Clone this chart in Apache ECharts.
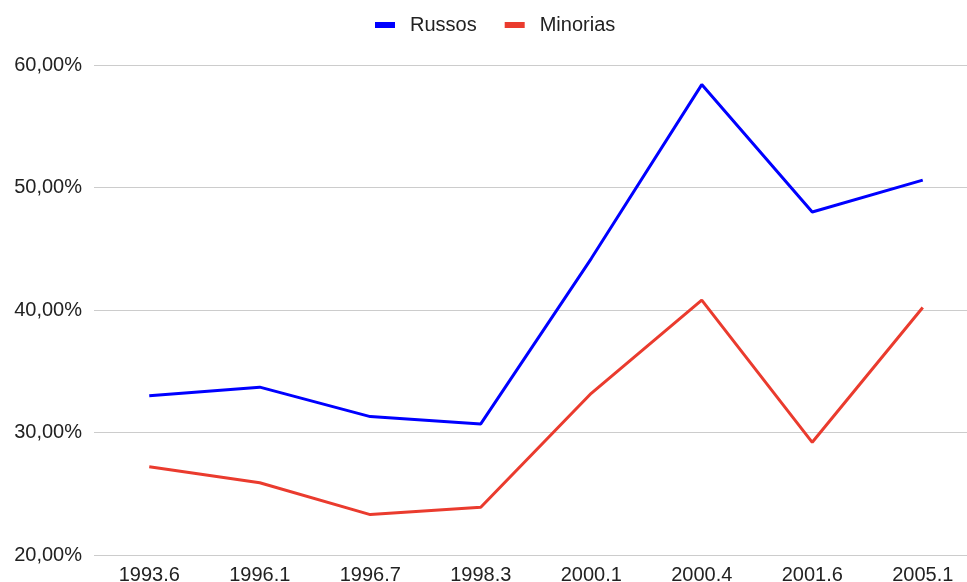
<!DOCTYPE html>
<html>
<head>
<meta charset="utf-8">
<script src="https://cdn.jsdelivr.net/npm/echarts@6/dist/echarts.min.js"></script>
<style>
  html, body { margin: 0; padding: 0; background: #fff; overflow: hidden; }
  #chart { width: 967px; height: 582px; }
</style>
</head>
<body>
<div id="chart"></div>
<script>
// Survey waves (year.month)
const categories = ['1993.6', '1996.1', '1996.7', '1998.3', '2000.1', '2000.4', '2001.6', '2005.1'];
// Shares in percent
const russos   = [33.0, 33.7, 31.3, 30.7, 44.2, 58.4, 48.0, 50.6];
const minorias = [27.2, 25.9, 23.3, 23.9, 33.2, 40.8, 29.2, 40.2];
const yTicks = { min: 20, max: 60, interval: 10 };

const chart = echarts.init(document.getElementById('chart'), null, { renderer: 'canvas' });
const fontFamily = 'Liberation Sans, Arial, sans-serif';

chart.setOption({
  animation: false,
  backgroundColor: '#ffffff',
  textStyle: { fontFamily: fontFamily },
  legend: {
    top: 10,
    left: 370,
    itemWidth: 20,
    itemHeight: 6,
    itemGap: 28,
    icon: 'rect',
    textStyle: { fontSize: 20, color: '#222', fontFamily: fontFamily, padding: [0, 0, 0, 10] },
    data: ['Russos', 'Minorias']
  },
  // plot area runs past the right edge so the last band is partly cut off
  grid: { left: 94, width: 884, top: 65, height: 490, containLabel: false, outerBoundsMode: 'none' },
  xAxis: {
    type: 'category',
    data: categories,
    boundaryGap: true,
    axisLine: { show: false },
    axisTick: { show: false },
    axisLabel: { fontSize: 20, color: '#222', margin: 10, fontFamily: fontFamily }
  },
  yAxis: {
    type: 'value',
    min: yTicks.min,
    max: yTicks.max,
    interval: yTicks.interval,
    axisLine: { show: false },
    axisTick: { show: false },
    splitLine: { lineStyle: { color: '#cccccc', width: 1 } },
    axisLabel: {
      fontSize: 20,
      color: '#222',
      margin: 12,
      fontFamily: fontFamily,
      formatter: v => v.toFixed(2).replace('.', ',') + '%'
    }
  },
  series: [
    {
      name: 'Russos',
      type: 'line',
      data: russos,
      symbol: 'none',
      color: '#0000ff',
      lineStyle: { width: 3, color: '#0000ff' }
    },
    {
      name: 'Minorias',
      type: 'line',
      data: minorias,
      symbol: 'none',
      color: '#ea3b2e',
      lineStyle: { width: 3, color: '#ea3b2e' }
    }
  ]
});
</script>
</body>
</html>
